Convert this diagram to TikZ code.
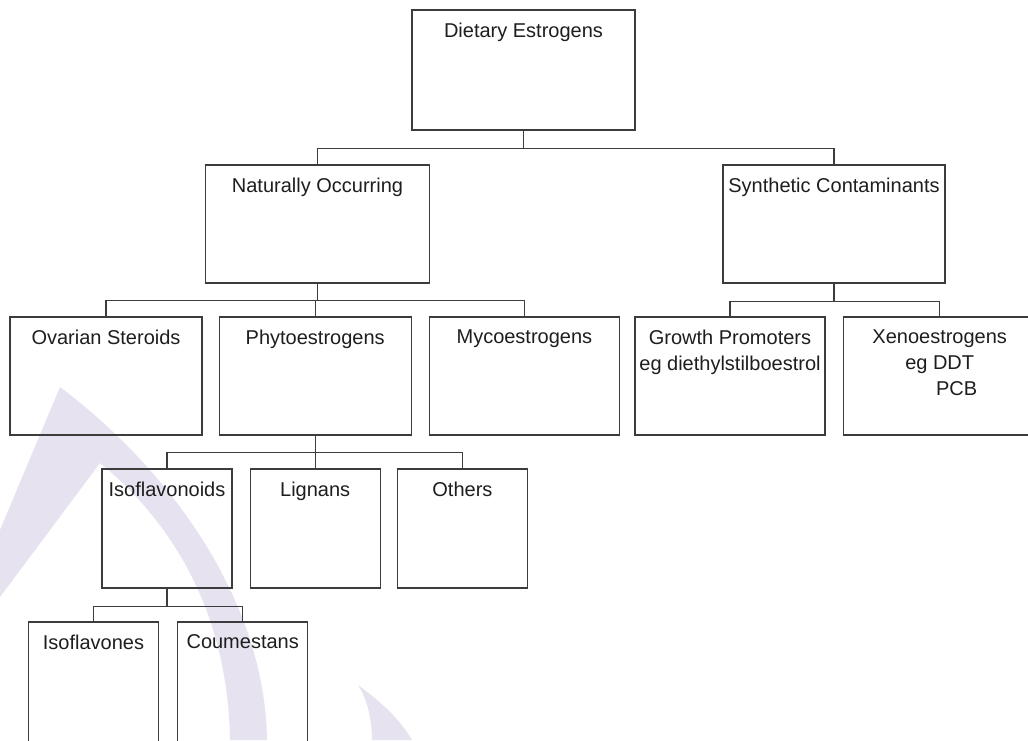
\documentclass[tikz,border=0pt]{standalone}
\usepackage{fontspec}
\setmainfont{Liberation Sans}
\usetikzlibrary{positioning}
\definecolor{ChartLine}{HTML}{3C3C3C}
\definecolor{ChartText}{HTML}{1E1E1E}
\definecolor{MarkLilac}{HTML}{E6E2EF}

\begin{document}
\begin{tikzpicture}[
    x=0.5pt, y=-0.5pt,
    catbox/.style={
      draw=ChartLine,
      line width=0.6pt,
      minimum height=59pt,
      inner sep=0pt
    },
    widebox/.style={catbox,minimum width=112pt},
    groupbox/.style={catbox,minimum width=95pt},
    leafbox/.style={catbox,minimum width=65pt,minimum height=59.5pt},
    boxtitle/.style={anchor=north,yshift=-3pt},
    every label/.style={
      align=center,
      text=ChartText,
      font=\fontsize{10}{13}\selectfont
    },
    every path/.style={ChartLine,line width=0.6pt}
  ]
    \path[fill=white,use as bounding box] (0,0) rectangle (1028,740);
    % faint watermark behind the chart
    \fill[MarkLilac] (60,387) .. controls (170,470) and (265,600) .. (267,740)
      -- (230,740) .. controls (228,610) and (170,520) .. (100,463)
      -- (0,597) -- (0,530) -- cycle;
    \fill[MarkLilac] (358,685) .. controls (385,705) and (400,720) .. (412,740)
      -- (372,740) .. controls (372,715) and (365,695) .. cycle;

    \node[widebox,minimum width=111.5pt,minimum height=60pt,
      label={[boxtitle,name=dietT]north:Dietary Estrogens}] (diet) at (523.5,70) {};
    \node[widebox,
      label={[boxtitle,name=naturalT]north:Naturally Occurring}] (natural) at (317.5,224) {};
    \node[widebox,minimum width=111pt,
      label={[boxtitle,name=synthT]north:Synthetic Contaminants}] (synth) at (834,224) {};

    \node[groupbox,minimum width=96pt,
      label={[boxtitle,name=ovarianT]north:Ovarian Steroids}] (ovarian) at (106,376) {};
    \node[groupbox,minimum width=96pt,right=8pt of ovarian,
      label={[boxtitle,name=phytoT]north:Phytoestrogens}] (phyto) {};
    \node[groupbox,right=8.5pt of phyto,
      label={[boxtitle,name=mycoT]north:Mycoestrogens}] (myco) {};
    \node[groupbox,
      label={[boxtitle,name=growthT]north:Growth Promoters\\eg diethylstilboestrol}] (growth) at (730,376) {};
    \node[groupbox,minimum width=96.5pt,right=8.5pt of growth,
      label={[boxtitle,name=xenoT]north:Xenoestrogens\\eg DDT\\\hspace*{17pt}PCB}] (xeno) {};

    \node[leafbox,
      label={[boxtitle,name=isofdT]north:Isoflavonoids}] (isofd) at (167,528.5) {};
    \node[leafbox,right=8.5pt of isofd,
      label={[boxtitle,name=lignanT]north:Lignans}] (lignan) {};
    \node[leafbox,right=8pt of lignan,
      label={[boxtitle,name=otherT]north:Others}] (other) {};

    \node[leafbox,minimum height=61.5pt,
      label={[boxtitle,name=isofvT]north:Isoflavones}] (isofv) at (93.5,683.5) {};
    \node[leafbox,minimum height=61.5pt,right=9pt of isofv,
      label={[boxtitle,name=coumT]north:Coumestans}] (coum) {};

    \draw (diet.south) -- ++(0,18) coordinate (topjoin);
    \draw (topjoin) -| (natural.north);
    \draw (topjoin) -| (synth.north);
    \draw (natural.south) -- ++(0,17) coordinate (natjoin);
    \draw (natjoin) -| (ovarian.north);
    \draw (natjoin) -| (phyto.north);
    \draw (natjoin) -| (myco.north);
    \draw (synth.south) -- ++(0,18) coordinate (synjoin);
    \draw (synjoin) -| (growth.north);
    \draw (synjoin) -| (xeno.north);
    \draw (phyto.south) -- ++(0,17) coordinate (phyjoin);
    \draw (phyjoin) -| (isofd.north);
    \draw (phyjoin) -| (lignan.north);
    \draw (phyjoin) -| (other.north);
    \draw (isofd.south) -- ++(0,18) coordinate (isojoin);
    \draw (isojoin) -| (isofv.north);
    \draw (isojoin) -| (coum.north);
  \end{tikzpicture}
\end{document}
